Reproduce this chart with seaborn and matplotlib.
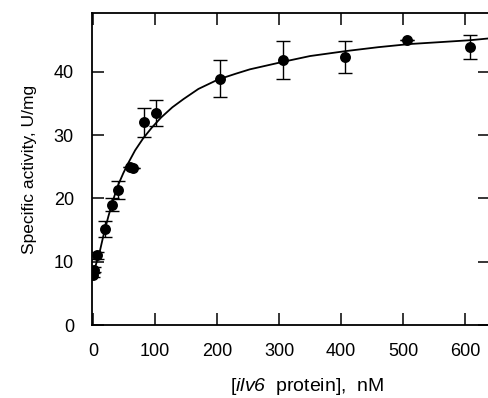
import numpy as np
import pandas as pd
import matplotlib
matplotlib.use("Agg")
import matplotlib.pyplot as plt
import seaborn as sns

# measured points
conc = [0, 2, 7, 20, 30, 41, 60, 64, 82, 102, 205, 306, 406, 507, 608]
activity = [7.9, 8.7, 11.0, 15.2, 19.0, 21.3, 25.0, 24.8, 32.0, 33.5, 38.9, 41.9, 42.3, 45.0, 44.0]
err = [0.3, 0.4, 0.6, 1.3, 1.0, 1.4, 0.0, 0.0, 2.3, 2.0, 2.9, 3.0, 2.5, 0.0, 1.9]

# fitted curve
curve_x = [0, 5, 11, 18, 25, 33, 41, 49, 57, 68, 81, 95, 110, 128, 146, 170, 202, 230, 253, 280, 307, 350, 409, 460, 511, 560, 608, 640]
curve_y = [7.6, 9.6, 11.6, 14.6, 17.2, 19.9, 22.2, 24.0, 25.6, 27.6, 29.5, 31.2, 32.8, 34.4, 35.7, 37.3, 38.8, 39.7, 40.4, 41.0, 41.6, 42.5, 43.3, 43.9, 44.4, 44.7, 45.0, 45.3]

df = pd.DataFrame({"conc": conc, "activity": activity, "err": err})
fit = pd.DataFrame({"x": curve_x, "y": curve_y})

sns.set_style("ticks")
plt.rcParams["font.family"] = ["Liberation Sans", "DejaVu Sans"]
plt.rcParams["mathtext.fontset"] = "custom"
plt.rcParams["mathtext.it"] = "Liberation Sans:italic"
plt.rcParams["mathtext.rm"] = "Liberation Sans:italic"  # so the 6 in ilv6 is italic too

fig = plt.figure(figsize=(4.89, 3.98), dpi=100)
ax = fig.add_axes([92 / 489, 73 / 398, 398 / 489, 312 / 398])

sns.lineplot(data=fit, x="x", y="y", ax=ax, color="black", linewidth=1.3)
ax.errorbar(df.conc, df.activity, yerr=df.err, fmt="none", ecolor="black",
            elinewidth=1.0, capsize=5, capthick=1.0)
sns.scatterplot(data=df, x="conc", y="activity", ax=ax, color="black",
                s=62, edgecolor="black", linewidth=0, zorder=5)

ax.set_xlim(-1.5, 640)
ax.set_ylim(0, 49.3)
ax.set_xticks([0, 100, 200, 300, 400, 500, 600])
ax.set_yticks([0, 10, 20, 30, 40])
ax.tick_params(direction="in", length=8.5, width=1.1, top=True, right=True,
               labelsize=13, pad=13, colors="black")
for s in ax.spines.values():
    s.set_linewidth(1.3)
    s.set_color("black")

ax.set_xlabel("[$\\mathit{ilv6}$  protein],  nM", fontsize=14, color="black")
ax.xaxis.set_label_coords(0.54, -0.165)
ax.set_ylabel("Specific activity, U/mg", fontsize=12.5, labelpad=12, color="black")

fig.savefig("out.png", dpi=100)
